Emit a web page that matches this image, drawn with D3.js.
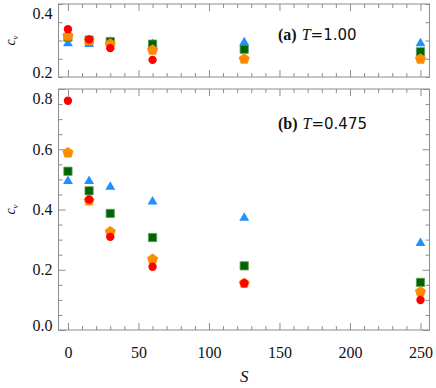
<!DOCTYPE html>
<html>
<head>
<meta charset="utf-8">
<script src="https://cdn.jsdelivr.net/npm/d3@7"></script>
<style>
  body { margin: 0; background: white; }
  svg { display: block; }
</style>
</head>
<body>
<div id="wrapper"></div>
<script>
// S values (x axis) shared by both panels
const sValues = [0, 15, 30, 60, 125, 250];

// panel (a) T=1.00
const topBlue = [0.292, 0.290, 0.296, 0.290, 0.295, 0.292];
const topGreen = [0.309, 0.301, 0.297, 0.290, 0.276, 0.269];
const topOrange = [0.312, 0.300, 0.290, 0.274, 0.249, 0.249];
const topRed = [0.331, 0.303, 0.279, 0.247, null, null];

// panel (b) T=0.475
const botBlue = [0.494, 0.494, 0.475, 0.426, 0.372, 0.288];
const botGreen = [0.527, 0.462, 0.387, 0.307, 0.213, 0.158];
const botOrange = [0.588, 0.429, 0.326, 0.235, 0.155, 0.127];
const botRed = [0.761, 0.433, 0.309, 0.210, 0.155, 0.0995];

const xMajor = [0, 50, 100, 150, 200, 250];
const topYLabels = [0.2, 0.4];
const botYLabels = [0.0, 0.2, 0.4, 0.6, 0.8];

let dimensions = {
  width: 436,
  height: 388,
  left: 58.5,
  right: 429.5
}

const frameColor = "#8c8c8c";
const serif = "'Liberation Serif', 'DejaVu Serif', serif";
const sans = "'DejaVu Sans', 'Liberation Sans', sans-serif";

let wrapper = d3.select("#wrapper").append("svg")
  .attr("width", dimensions.width)
  .attr("height", dimensions.height);

let xScale = d3.scaleLinear()
  .domain([-6.7, 256.4])
  .range([dimensions.left, dimensions.right]);

// pentagon symbol, d3 has none
const symbolPentagon = {
  draw(context, size) {
    const r = Math.sqrt(size / 2.378);
    for (let i = 0; i < 5; i++) {
      const a = -Math.PI / 2 + i * 2 * Math.PI / 5;
      const px = r * Math.cos(a), py = r * Math.sin(a);
      if (i === 0) context.moveTo(px, py); else context.lineTo(px, py);
    }
    context.closePath();
  }
}

const series = [
  {key: "blue", type: d3.symbolTriangle, size: 42, fill: "#1e90ff", stroke: "none"},
  {key: "green", type: d3.symbolSquare, size: 68, fill: "#006400", stroke: "#5f9a5f"},
  {key: "orange", type: symbolPentagon, size: 80, fill: "#ff8c00", stroke: "none"},
  {key: "red", type: d3.symbolCircle, size: 55, fill: "#ff0000", stroke: "none"}
];

function drawPanel(top, bottom, yDomain, yLabels, values, labelText, tVal, labelY, showX) {
  let yScale = d3.scaleLinear().domain(yDomain).range([bottom, top]);
  let g = wrapper.append("g");

  // minor ticks every 0.05 / 10, major ticks longer
  let yMinor = d3.range(yDomain[0], yDomain[1] + 1e-9, 0.05).map(v => +v.toFixed(2));
  let xMinor = d3.range(0, 251, 10);

  function styleAxis(sel) {
    sel.select(".domain").remove();
    sel.selectAll("line").attr("stroke", frameColor).attr("stroke-width", 1);
  }

  const isMajorX = v => v % 50 === 0;
  const isMajorY = v => yLabels.some(l => Math.abs(l - v) < 1e-6) && showX;

  g.append("g").attr("transform", `translate(0,${bottom})`)
    .call(d3.axisBottom(xScale).tickValues(xMinor).tickSize(-4).tickFormat(""))
    .call(styleAxis)
    .selectAll(".tick line").attr("y2", d => isMajorX(d) ? -7 : -4);
  g.append("g").attr("transform", `translate(0,${top})`)
    .call(d3.axisTop(xScale).tickValues(xMinor).tickSize(-4).tickFormat(""))
    .call(styleAxis)
    .selectAll(".tick line").attr("y2", d => isMajorX(d) ? 7 : 4);
  g.append("g").attr("transform", `translate(${dimensions.left},0)`)
    .call(d3.axisLeft(yScale).tickValues(yMinor).tickSize(-4).tickFormat(""))
    .call(styleAxis)
    .selectAll(".tick line").attr("x2", d => isMajorY(d) ? 7 : 4);
  g.append("g").attr("transform", `translate(${dimensions.right},0)`)
    .call(d3.axisRight(yScale).tickValues(yMinor).tickSize(-4).tickFormat(""))
    .call(styleAxis)
    .selectAll(".tick line").attr("x2", d => isMajorY(d) ? -7 : -4);

  // y tick labels, edge ones pulled inside like the original
  let yAxisLab = g.append("g").attr("transform", `translate(${dimensions.left},0)`)
    .call(d3.axisLeft(yScale).tickValues(yLabels).tickSize(0).tickPadding(6).tickFormat(d3.format(".1f")));
  yAxisLab.select(".domain").remove();
  yAxisLab.selectAll("text")
    .attr("font-family", serif).attr("font-size", 16).attr("fill", "#111")
    .attr("dy", "0.32em")
    .attr("y", d => d === yDomain[1] ? 9 : (d === yDomain[0] ? -5 : 0));

  if (showX) {
    let xAxisLab = g.append("g").attr("transform", `translate(0,${bottom})`)
      .call(d3.axisBottom(xScale).tickValues(xMajor).tickSize(0).tickPadding(17));
    xAxisLab.select(".domain").remove();
    xAxisLab.selectAll("text").attr("font-family", serif).attr("font-size", 16).attr("fill", "#111");
  }

  // frame
  g.append("rect")
    .attr("x", dimensions.left).attr("y", top)
    .attr("width", dimensions.right - dimensions.left).attr("height", bottom - top)
    .attr("fill", "none").attr("stroke", frameColor).attr("stroke-width", 1);

  // markers
  series.forEach((s, i) => {
    let pts = sValues.map((x, j) => ({x: x, y: values[i][j]})).filter(d => d.y !== null);
    g.selectAll(null).data(pts).enter().append("path")
      .attr("d", d3.symbol().type(s.type).size(s.size))
      .attr("transform", d => `translate(${xScale(d.x)},${yScale(d.y)})`)
      .attr("fill", s.fill)
      .attr("stroke", s.stroke)
      .attr("stroke-width", 0.8);
  });

  // panel label
  let t = g.append("text").attr("x", 278).attr("y", labelY).attr("font-size", 16).attr("fill", "#111");
  t.append("tspan").attr("font-family", serif).attr("font-weight", "bold").text(labelText);
  t.append("tspan").attr("font-family", serif).attr("font-style", "italic").attr("dx", 5).text("T");
  t.append("tspan").attr("font-family", sans).attr("font-size", 15).text("=" + tVal);

  // c_v label
  let cy = (top + bottom) / 2;
  let c = g.append("text").attr("transform", `translate(15,${cy}) rotate(-90)`)
    .attr("text-anchor", "middle").attr("font-family", serif).attr("font-style", "italic")
    .attr("font-size", 14).attr("fill", "#111");
  c.append("tspan").text("c");
  c.append("tspan").attr("font-size", 9).attr("dy", 3).text("v");
}

drawPanel(4, 77, [0.2, 0.4], topYLabels,
  [topBlue, topGreen, topOrange, topRed], "(a)", "1.00", 40, false);
drawPanel(89, 330, [0, 0.8], botYLabels,
  [botBlue, botGreen, botOrange, botRed], "(b)", "0.475", 129, true);

wrapper.append("text")
  .attr("x", xScale(125)).attr("y", 382)
  .attr("text-anchor", "middle")
  .attr("font-family", serif).attr("font-style", "italic").attr("font-size", 17)
  .attr("fill", "#111")
  .text("S");
</script>
</body>
</html>
